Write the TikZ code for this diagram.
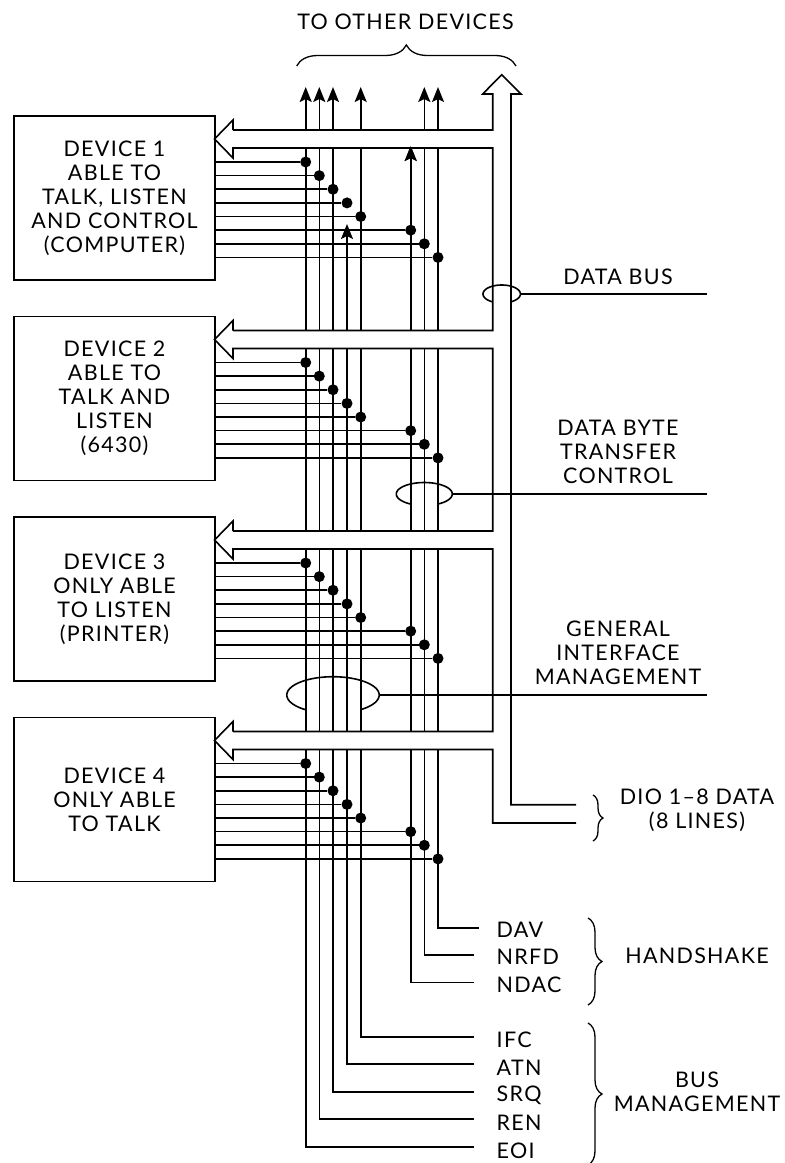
\documentclass[tikz,border=0pt]{standalone}
\usepackage{fontspec}
\setmainfont[LetterSpace=6]{Lato}
\usetikzlibrary{arrows.meta,decorations.pathreplacing}
\tikzset{
    wire/.style={line width=1.6pt},
    buswire/.style={wire, -{Stealth[length=15pt,width=12pt,inset=3pt]}},
    dotnode/.style={circle, fill=black, inner sep=0pt, minimum size=11pt},
    devicebox/.style={draw, wire, minimum width=200.5pt, minimum height=164pt, align=center, outer sep=0pt},
    textlabel/.style={align=center, inner sep=0pt},
    linelabel/.style={anchor=west, inner sep=0pt},
    bracket/.style={line width=1.3pt, decorate, decoration={brace, amplitude=#1}},
}
\begin{document}
\begin{tikzpicture}[x=1pt, y=-1pt, font=\fontsize{21.5}{24}\selectfont]
    \useasboundingbox (0,0) rectangle (785,1163);

    % the eight bus lines, from the free end up to the arrow
    \foreach \bus/\x/\ytop/\xend/\yend in {eoi/305.7/87/474/1146.7, ren/319.3/87/474/1119, srq/333/87/474/1091.7,
        atn/347/224/474/1064, ifc/360.7/87/474/1036.7, ndac/410.7/146/474/982.3, nrfd/424.3/87/474/955, dav/438/87/478.7/927.7} {
        \coordinate (\bus-top) at (\x,\ytop);
        \coordinate (\bus-end) at (\xend,\yend);
        \draw[buswire] (\bus-end) -| (\bus-top);
    }

    % the wide data arrows lie over the bus lines
    \foreach \d/\dy in {1/0, 2/200.5, 3/401, 4/601.5} {
        \fill[white] (214.5,{139+\dy}) -- (233,{120+\dy}) -- (233,{130+\dy}) -- (492.7,{130+\dy})
            -- (492.7,{148+\dy}) -- (233,{148+\dy}) -- (233,{158+\dy}) -- cycle;
    }
    \coordinate (ndac-stub) at (410.7,165);
    \draw[buswire] (ndac-stub) -- (ndac-top);

    % outline of the data bus
    \coordinate (dio-upper) at (576,804.7);
    \coordinate (dio-lower) at (576,823);
    \draw[wire] (233,130) -- (492.7,130) -- (492.7,94) -- (482.7,94) -- (501.7,74.7) -- (521,94) -- (511,94)
        -- (511,804.7) -- (dio-upper);
    \foreach \d/\dy in {1/0, 2/200.5, 3/401} {
        \draw[wire] (233,{130+\dy}) -- (233,{120+\dy}) -- (214.5,{139+\dy}) -- (233,{158+\dy}) -- (233,{148+\dy})
            -- (492.7,{148+\dy}) -- (492.7,{330.5+\dy}) -- (233,{330.5+\dy});
    }
    \draw[wire] (233,731.5) -- (233,721.5) -- (214.5,740.5) -- (233,759.5) -- (233,749.5)
        -- (492.7,749.5) -- (492.7,823) -- (dio-lower);

    % devices
    \node[devicebox] (dev1) at (114.5,198) {DEVICE 1\\ABLE TO\\TALK, LISTEN\\AND CONTROL\\(COMPUTER)};
    \node[devicebox] (dev2) at (114.5,398.5) {DEVICE 2\\ABLE TO\\TALK AND\\LISTEN\\(6430)};
    \node[devicebox] (dev3) at (114.5,599) {DEVICE 3\\ONLY ABLE\\TO LISTEN\\(PRINTER)};
    \node[devicebox] (dev4) at (114.5,799.5) {DEVICE 4\\ONLY ABLE\\TO TALK};

    % each device taps every bus line
    \foreach \d/\dy in {1/0, 2/200.5, 3/401, 4/601.5} {
        \foreach \r/\bus in {0/eoi, 1/ren, 2/srq, 3/atn, 4/ifc, 5/ndac, 6/nrfd, 7/dav} {
            \pgfmathsetmacro{\rowy}{162+13.63*\r+\dy}
            \node[dotnode] (dot\d-\r) at (\bus-top |- 0,\rowy) {};
            \draw[wire] (dev\d.east |- dot\d-\r) -- (dot\d-\r);
        }
    }

    % rings round the groups of lines, open behind them
    \foreach \cx/\cy/\rx/\ry/\a in {501.7/294/18.7/9/60.5, 424.3/494/28/11.5/61, 333/695/46.2/18.3/53.5} {
        \draw[wire, domain={180-\a}:{360+\a}, samples=60] plot ({\cx+\rx*cos(\x)}, {\cy+\ry*sin(\x)});
    }
    \coordinate (bus-ring) at (520.4,294);
    \coordinate (byte-ring) at (452.3,494);
    \coordinate (mgmt-ring) at (379.2,695);
    \coordinate (bus-free) at (706.7,294);
    \coordinate (byte-free) at (706.7,494);
    \coordinate (mgmt-free) at (706.7,695);
    \draw[wire] (bus-ring) -- (bus-free);
    \draw[wire] (byte-ring) -- (byte-free);
    \draw[wire] (mgmt-ring) -- (mgmt-free);

    % labels
    \node[textlabel] (others) at (405.5,22) {TO OTHER DEVICES};
    \node[textlabel] (databus) at (618,277) {DATA BUS};
    \node[textlabel] (databyte) at (618,452) {DATA BYTE\\TRANSFER\\CONTROL};
    \node[textlabel] (general) at (618,653) {GENERAL\\INTERFACE\\MANAGEMENT};
    \node[textlabel] (dio) at (697,810) {DIO 1--8 DATA\\(8 LINES)};
    \node[textlabel] (handshake) at (697,956) {HANDSHAKE};
    \node[textlabel] (management) at (697,1092) {BUS\\MANAGEMENT};
    \foreach \name/\y/\txt in {dav/930/DAV, nrfd/957/NRFD, ndac/985/NDAC, ifc/1040/IFC, atn/1068/ATN, srq/1095/SRQ, ren/1123/REN, eoi/1151/EOI} {
        \node[linelabel] (\name-label) at (496.5,\y) {\txt};
    }

    % braces
    \draw[bracket=21pt] (296.7,66) -- (516,66);
    \draw[bracket=10pt] (593,795) -- (593,841);
    \draw[bracket=14pt] (588,918) -- (588,1005);
    \draw[bracket=14pt] (588,1023) -- (588,1165);
\end{tikzpicture}
\end{document}
